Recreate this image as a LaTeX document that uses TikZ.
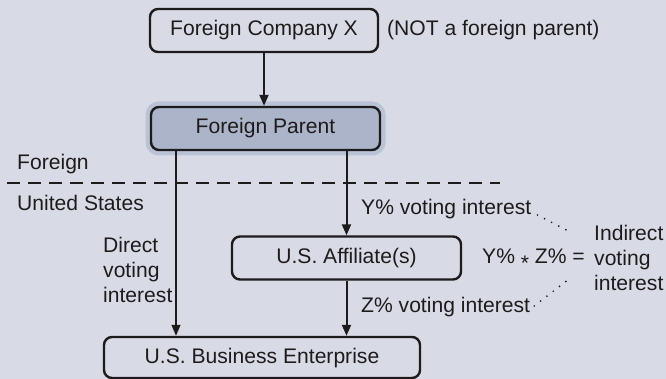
\documentclass[tikz,border=0pt]{standalone}
\usepackage{fontspec}
\setmainfont{Liberation Sans}
\usetikzlibrary{arrows.meta}
\definecolor{bgblue}{RGB}{216,219,230}
\definecolor{parentblue}{RGB}{172,180,201}
\definecolor{haloblue}{RGB}{186,194,214}
\definecolor{inkgray}{RGB}{30,27,28}
\begin{document}
\begin{tikzpicture}[x=1pt,y=-1pt]
    \tikzstyle{every node}=[font=\fontsize{21.1}{25}\selectfont,text=inkgray]
    \tikzstyle{entity}=[draw=inkgray,line width=2.4pt,rounded corners=8pt,minimum height=43pt,inner sep=0pt,text height=15pt,text depth=4pt]
    \tikzstyle{txt}=[inner sep=0pt,anchor=base west]
    \tikzstyle{voteline}=[draw=inkgray,line width=2pt,-{Triangle[length=11pt,width=9pt]}]
    \tikzstyle{dotlink}=[draw=inkgray,line width=1.9pt,line cap=round,dash pattern=on 0pt off 8pt]
    \fill[bgblue] (0,0) rectangle (666,379);
    \useasboundingbox (0,0) rectangle (666,379);
    \node[entity,minimum width=228pt] (fcx) at (264,30.5) {Foreign Company X};
    \node[txt] (notfp) at (387,36) {(NOT a foreign parent)};
    \node[entity,minimum width=229pt,fill=parentblue,preaction={draw=haloblue,line width=11pt}] (fp) at (265.5,128.5) {Foreign Parent};
    \node[entity,minimum width=229pt] (aff) at (346.5,258) {U.S. Affiliate(s)};
    \node[entity,minimum width=316pt,minimum height=41pt] (ube) at (262,357.5) {U.S. Business Enterprise};
    \node[txt] (fgn) at (17,170) {Foreign};
    \node[txt] (usa) at (17,211) {United States};
    \draw[inkgray,line width=2pt,dash pattern=on 13pt off 8pt] (7,183.5) -- (500,183.5);
    \coordinate (dl) at (176,0);
    \draw[voteline] (fcx.south) -- (fcx.south |- fp.north);
    \draw[voteline,line width=1.3pt] (fp.south -| dl) -- (ube.north -| dl);
    \draw[voteline] (fp.south -| aff.north) -- (aff.north);
    \draw[voteline] (aff.south) -- (aff.south |- ube.north);
    \node[txt,align=left,anchor=north west] (direct) at (103,237) {Direct\\voting\\interest};
    \node[txt] (ypct) at (361,215) {Y\% voting interest};
    \node[txt] (zpct) at (361,312) {Z\% voting interest};
    \node[txt] (prod) at (482,263) {Y\% \raisebox{-7pt}{*} Z\% =};
    \node[txt,align=left,anchor=north west] (indirect) at (594,225) {Indirect\\voting\\interest};
    \coordinate (yend) at (572,233);
    \coordinate (zend) at (569,279);
    \draw[dotlink] ([xshift=6pt]ypct.base east) -- (yend);
    \draw[dotlink] ([xshift=4pt,yshift=6pt]zpct.base east) -- (zend);
\end{tikzpicture}
\end{document}
